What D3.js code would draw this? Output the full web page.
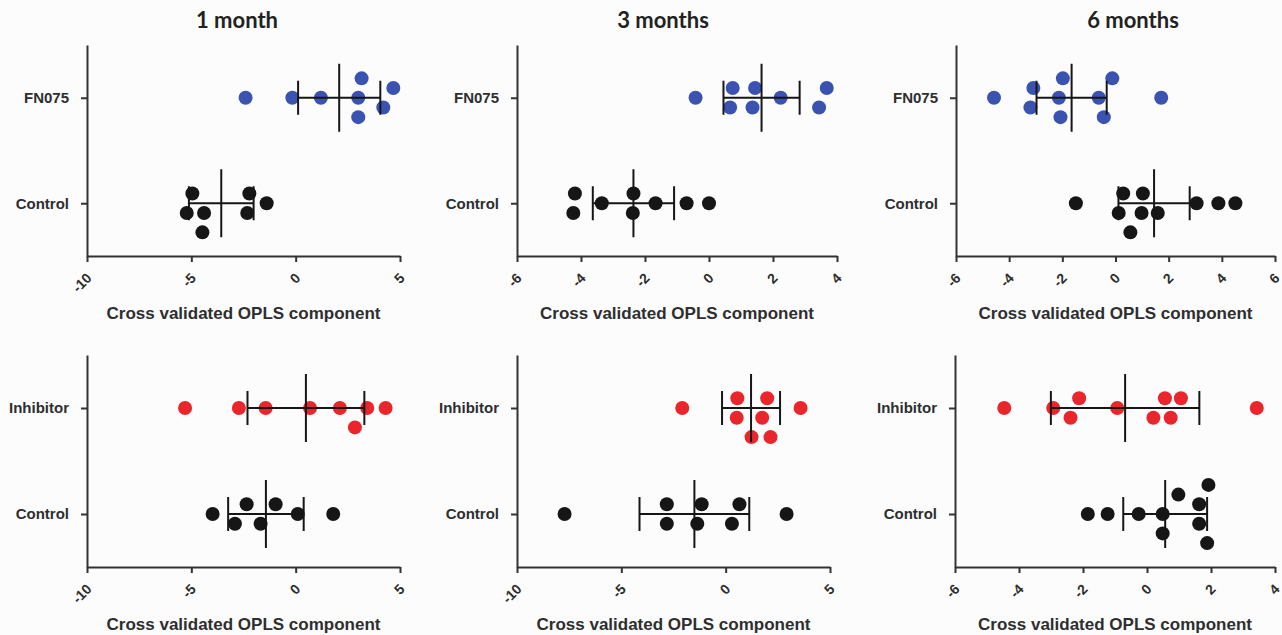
<!DOCTYPE html>
<html>
<head>
<meta charset="utf-8">
<script src="https://cdn.jsdelivr.net/npm/d3@7"></script>
<style>
  html, body { margin: 0; padding: 0; background: #fcfcfd; }
  svg { display: block; }
</style>
</head>
<body>
<div class="chart"></div>
<script>
const w = 1282;
const h = 635;

// titles / categories / ticks
const months = ['1 month', '3 months', '6 months'];
const groupsTop = ['FN075', 'Control'];
const groupsBottom = ['Inhibitor', 'Control'];
const ticks1m = [-10, -5, 0, 5];
const ticks3mTop = [-6, -4, -2, 0, 2, 4];
const ticks6mTop = [-6, -4, -2, 0, 2, 4, 6];
const ticks3mBottom = [-10, -5, 0, 5];
const ticks6mBottom = [-6, -4, -2, 0, 2, 4];

// cross validated OPLS scores
const fn075_1m = [-2.4, -0.16, 1.21, 3.0, 3.0, 3.16, 4.2, 4.68];
const ctrlF_1m = [-5.22, -4.95, -4.47, -4.39, -2.32, -2.22, -1.39];
const fn075_3m = [-0.42, 0.66, 0.74, 1.36, 1.44, 2.24, 3.44, 3.68];
const ctrlF_3m = [-4.24, -4.19, -3.35, -2.38, -2.36, -1.67, -0.7, 0.0];
const fn075_6m = [-4.57, -3.2, -3.09, -2.13, -2.07, -1.98, -0.63, -0.44, -0.12, 1.72];
const ctrlF_6m = [-1.49, 0.12, 0.29, 0.56, 0.98, 1.03, 1.59, 3.05, 3.87, 4.51];

const inh_1m = [-5.3, -2.72, -1.44, 0.69, 2.12, 2.84, 3.43, 4.31];
const ctrlI_1m = [-3.98, -2.91, -2.35, -1.68, -0.96, 0.1, 1.8];
const inh_3m = [-2.08, 0.53, 0.56, 1.24, 1.75, 1.99, 2.15, 3.59];
const ctrlI_3m = [-7.72, -2.82, -2.82, -1.36, -1.15, 0.3, 0.66, 2.92];
const inh_6m = [-4.46, -2.93, -2.39, -2.12, -0.93, 0.2, 0.56, 0.74, 1.06, 3.43];
const ctrlI_6m = [-1.85, -1.23, -0.26, 0.49, 0.49, 0.98, 1.63, 1.63, 1.88, 1.92];

// error bar half widths (treated / control)
const errTop = [[1.97, 1.55], [1.19, 1.27], [1.32, 1.34]];
const errBottom = [[2.8, 1.81], [1.39, 2.63], [2.32, 1.31]];

const blue = '#3a53b0';
const red = '#e8262b';
const black = '#161616';
const ink = '#2e2e2e';

const panels = [
	{title: months[0], groups: groupsTop, series: [fn075_1m, ctrlF_1m], err: errTop[0], ticks: ticks1m, color: blue, x0: 87, x1: 400, y0: 45, y1: 256, tx: 237},
	{title: months[1], groups: groupsTop, series: [fn075_3m, ctrlF_3m], err: errTop[1], ticks: ticks3mTop, color: blue, x0: 517, x1: 837, y0: 45, y1: 256, tx: 663},
	{title: months[2], groups: groupsTop, series: [fn075_6m, ctrlF_6m], err: errTop[2], ticks: ticks6mTop, color: blue, x0: 956, x1: 1275, y0: 45, y1: 256, tx: 1133},
	{groups: groupsBottom, series: [inh_1m, ctrlI_1m], err: errBottom[0], ticks: ticks1m, color: red, x0: 87, x1: 400, y0: 355, y1: 567},
	{groups: groupsBottom, series: [inh_3m, ctrlI_3m], err: errBottom[1], ticks: ticks3mBottom, color: red, x0: 517, x1: 830, y0: 355, y1: 567},
	{groups: groupsBottom, series: [inh_6m, ctrlI_6m], err: errBottom[2], ticks: ticks6mBottom, color: red, x0: 955, x1: 1275, y0: 355, y1: 567},
];

const svg = d3
	.select('.chart')
	.append('svg')
	.attr('width', w)
	.attr('height', h)
	.style('background-color', '#fcfcfd');

const dotR = 7;
const laneStep = 9.7;

// prism-like scatter: points that touch are spread over symmetric lanes
function swarm(vals, x, cy) {
	const D = 16;
	const pts = vals.map(v => ({v, px: x(v)})).sort((a, b) => a.px - b.px);
	const clusters = [];
	pts.forEach((p, i) => {
		if (i && p.px - pts[i - 1].px < D) clusters[clusters.length - 1].push(p);
		else clusters.push([p]);
	});
	clusters.forEach(c => {
		const lanes = c.length % 2 ? [0, 2, -2, 4, -4, 6, -6] : [1, -1, 3, -3, 5, -5];
		const placed = [];
		c.forEach(p => {
			const l = lanes.find(l =>
				placed.every(q => Math.hypot(q.px - p.px, (q.lane - l) * laneStep) >= D)
			);
			p.lane = l === undefined ? 0 : l;
			placed.push(p);
		});
	});
	return pts.map(p => ({px: p.px, py: cy + p.lane * laneStep}));
}

panels.forEach(p => {
	const g = svg.append('g');

	const x = d3.scaleLinear().domain(d3.extent(p.ticks)).range([p.x0, p.x1]);
	const y = d3.scalePoint().domain(p.groups).range([p.y0, p.y1]).padding(0.5);

	if (p.title) {
		g.append('text')
			.attr('x', p.tx)
			.attr('y', 27.5)
			.attr('text-anchor', 'middle')
			.style('font-family', 'Lato, "Open Sans", sans-serif')
			.style('font-weight', 700)
			.style('font-size', '22px')
			.style('fill', '#222')
			.text(p.title);
	}

	// x axis
	const xAxis = g
		.append('g')
		.attr('transform', `translate(0, ${p.y1})`)
		.call(
			d3.axisBottom(x)
				.tickValues(p.ticks)
				.tickFormat(d => String(d))
				.tickSize(6)
				.tickSizeOuter(0)
		);
	xAxis
		.selectAll('text')
		.attr('x', 0)
		.attr('y', 0)
		.attr('dy', null)
		.attr('text-anchor', 'end')
		.attr('transform', 'translate(5, 23) rotate(-45)')
		.style('font-family', '"Liberation Sans", Arial, sans-serif')
		.style('font-weight', 700)
		.style('font-size', '14px')
		.style('fill', ink);

	// y axis
	const yAxis = g
		.append('g')
		.attr('transform', `translate(${p.x0}, 0)`)
		.call(d3.axisLeft(y).tickSize(6).tickSizeOuter(0));
	yAxis
		.selectAll('text')
		.attr('x', -18)
		.style('font-family', '"Liberation Sans", Arial, sans-serif')
		.style('font-weight', 700)
		.style('font-size', '15px')
		.style('fill', ink);

	g.selectAll('.domain, .tick line')
		.attr('stroke', '#333')
		.attr('stroke-width', 2);

	g.append('text')
		.attr('x', (p.x0 + p.x1) / 2)
		.attr('y', p.y1 + 63)
		.attr('text-anchor', 'middle')
		.style('font-family', '"Liberation Sans", Arial, sans-serif')
		.style('font-weight', 700)
		.style('font-size', '17px')
		.style('fill', ink)
		.text('Cross validated OPLS component');

	p.series.forEach((vals, i) => {
		const cy = y(p.groups[i]);
		const m = d3.mean(vals);
		const e = p.err[i];

		g.append('g')
			.selectAll('circle')
			.data(swarm(vals, x, cy))
			.enter()
			.append('circle')
			.attr('cx', d => d.px)
			.attr('cy', d => d.py)
			.attr('r', dotR)
			.attr('fill', i === 0 ? p.color : black);

		// mean line with error bars
		const bars = g.append('g').attr('stroke', black).attr('stroke-width', 2);
		bars.append('line')
			.attr('x1', x(m - e)).attr('x2', x(m + e))
			.attr('y1', cy).attr('y2', cy);
		bars.append('line')
			.attr('x1', x(m)).attr('x2', x(m))
			.attr('y1', cy - 34).attr('y2', cy + 34);
		[m - e, m + e].forEach(v => {
			bars.append('line')
				.attr('x1', x(v)).attr('x2', x(v))
				.attr('y1', cy - 17).attr('y2', cy + 17);
		});
	});
});
</script>
</body>
</html>
